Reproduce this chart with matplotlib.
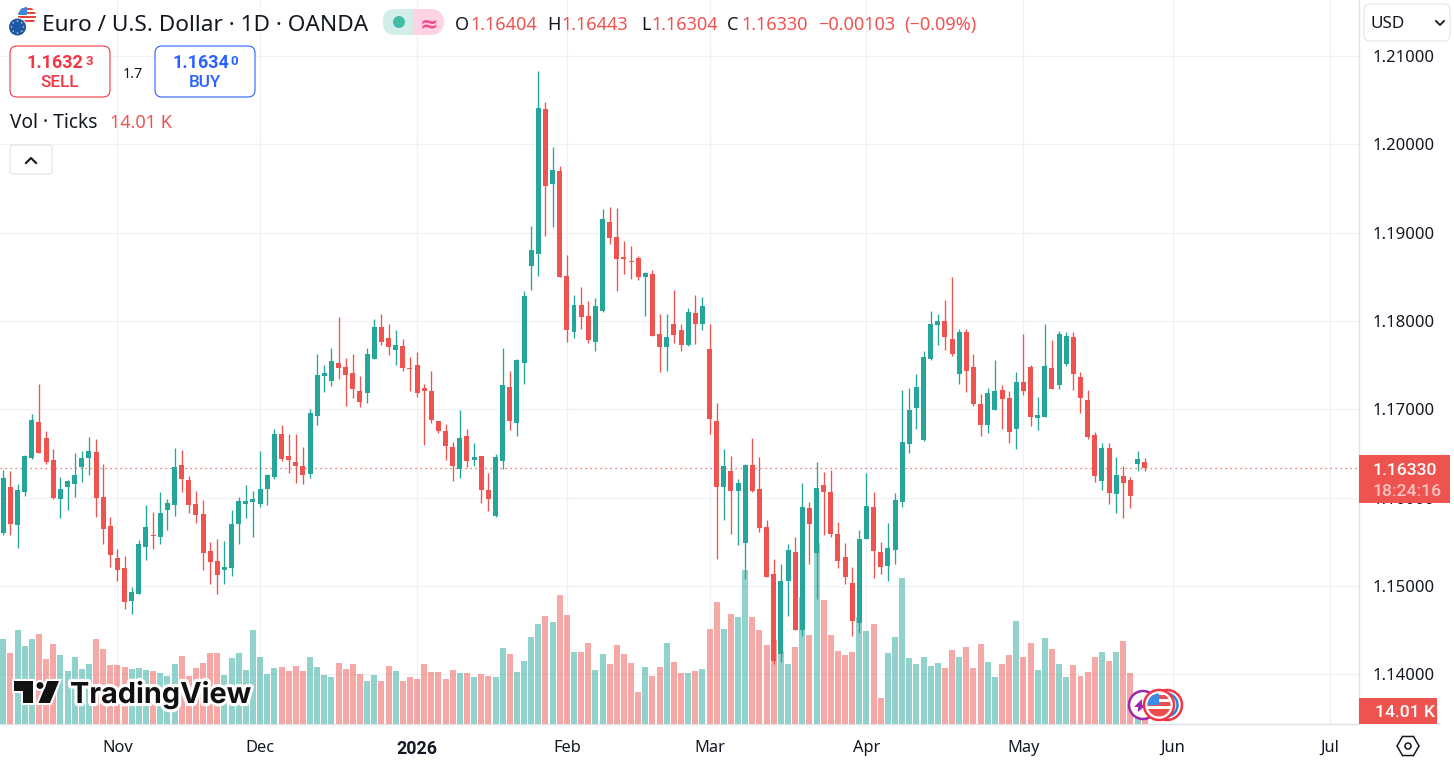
import math
import matplotlib
matplotlib.use("Agg")
import matplotlib.pyplot as plt
import matplotlib.patheffects as pe
from matplotlib.patches import FancyBboxPatch, Circle, Rectangle, Polygon, RegularPolygon, Wedge

FONT = "Noto Sans"
BOLD_FONT = "Roboto"
plt.rcParams["font.family"] = [FONT, "DejaVu Sans"]

opens = [
 1.15599,1.16120,1.15690,1.16063,1.16448,1.16856,1.16675,1.16426,1.15984,1.16120,
 1.16154,1.16347,1.16448,1.16516,1.16007,1.15679,1.15316,1.15203,1.14829,1.14909,
 1.15441,1.15577,1.15554,1.15860,1.15916,1.16369,1.16199,1.15928,1.15814,1.15395,
 1.15282,1.15180,1.15203,1.15701,1.15928,1.15950,1.15928,1.16097,1.16233,1.16720,
 1.16471,1.16403,1.16358,1.16267,1.16923,1.17376,1.17320,1.17523,1.17478,1.17410,
 1.17206,1.17184,1.17569,1.17931,1.17806,1.17671,1.17716,1.17467,1.17501,1.17240,
 1.17206,1.16867,1.16754,1.16572,1.16323,1.16697,1.16425,1.16471,1.16086,1.15791,
 1.16414,1.17252,1.16844,1.17523,1.18622,1.18758,1.20399,1.19550,1.19697,1.18508,
 1.17874,1.18180,1.18056,1.17761,1.18112,1.19120,1.18950,1.18724,1.18678,1.18712,
 1.18497,1.18531,1.17852,1.17705,1.17965,1.17897,1.17727,1.18090,1.17965,1.17683,
 1.16867,1.16120,1.16301,1.16075,1.15486,1.16369,1.16097,1.15667,1.15135,1.14229,
 1.15056,1.15384,1.14501,1.15882,1.15373,1.16143,1.16064,1.15588,1.15328,1.15033,
 1.14580,1.15531,1.15894,1.15384,1.15226,1.15407,1.15950,1.16607,1.17015,1.16652,
 1.17569,1.17954,1.18000,1.17796,1.17400,1.17875,1.17479,1.17060,1.16822,1.16992,
 1.17218,1.17128,1.16777,1.17309,1.17479,1.16901,1.16913,1.17467,1.17275,1.17513,
 1.17818,1.17366,1.17105,1.16709,1.16188,1.16562,1.16041,1.16245,1.16199,1.16381,
 1.16404]
highs = [
 1.16313,1.16301,1.16154,1.16482,1.16947,1.17286,1.16754,1.16550,1.16233,1.16199,
 1.16505,1.16528,1.16686,1.16664,1.16381,1.15780,1.15418,1.15339,1.14988,1.15520,
 1.15916,1.15837,1.16063,1.15984,1.16562,1.16539,1.16245,1.16075,1.15973,1.15497,
 1.15531,1.15509,1.15860,1.16007,1.16143,1.16075,1.16528,1.16267,1.16777,1.16822,
 1.16720,1.16720,1.16573,1.16999,1.17625,1.17501,1.17693,1.18044,1.17580,1.17625,
 1.17376,1.17693,1.18022,1.18078,1.17965,1.17897,1.17795,1.17591,1.17648,1.17286,
 1.17433,1.16867,1.16833,1.16629,1.16991,1.16776,1.16618,1.16471,1.16278,1.16493,
 1.17693,1.17433,1.17569,1.18339,1.19075,1.20829,1.20478,1.19969,1.19754,1.18746,
 1.18293,1.18384,1.18225,1.18259,1.19267,1.19290,1.19278,1.18905,1.18848,1.18735,
 1.18554,1.18576,1.18078,1.18078,1.18350,1.17965,1.18146,1.18293,1.18271,1.17966,
 1.17071,1.16550,1.16471,1.16211,1.16381,1.16675,1.16460,1.15746,1.15305,1.15248,
 1.15475,1.15554,1.16165,1.15950,1.16403,1.16290,1.16313,1.15724,1.15486,1.15214,
 1.15633,1.16279,1.16064,1.15497,1.15713,1.16052,1.17218,1.17241,1.17400,1.17660,
 1.18113,1.18079,1.18237,1.18498,1.17909,1.17909,1.17626,1.17173,1.17241,1.17558,
 1.17275,1.17207,1.17422,1.17852,1.17501,1.17139,1.17966,1.17784,1.17886,1.17875,
 1.17875,1.17422,1.17218,1.16743,1.16618,1.16618,1.16460,1.16358,1.16233,1.16528,
 1.16443]
lows = [
 1.15577,1.15577,1.15429,1.16018,1.16437,1.16505,1.16381,1.15984,1.15769,1.15860,
 1.16007,1.16177,1.16256,1.15780,1.15475,1.15214,1.15056,1.14739,1.14682,1.14909,
 1.15294,1.15418,1.15475,1.15633,1.15792,1.16063,1.15826,1.15713,1.15180,1.15022,
 1.14909,1.15022,1.15112,1.15475,1.15769,1.15554,1.15894,1.15916,1.16211,1.16414,
 1.16279,1.16165,1.16154,1.16222,1.16821,1.17195,1.17263,1.17342,1.17037,1.17127,
 1.17025,1.17071,1.17569,1.17727,1.17614,1.17501,1.17433,1.17206,1.17138,1.16595,
 1.16844,1.16731,1.16425,1.16187,1.16221,1.16346,1.16357,1.15938,1.15848,1.15780,
 1.16323,1.16765,1.16697,1.17286,1.18350,1.18508,1.18961,1.19063,1.18497,1.17761,
 1.17806,1.17908,1.17750,1.17659,1.18101,1.18871,1.18339,1.18531,1.18474,1.18463,
 1.18056,1.17829,1.17422,1.17433,1.17750,1.17659,1.17716,1.17739,1.17897,1.16720,
 1.15305,1.15746,1.15588,1.15463,1.15079,1.16064,1.15611,1.15101,1.14116,1.14139,
 1.14660,1.14501,1.14433,1.15248,1.14852,1.15577,1.15554,1.15203,1.15022,1.14433,
 1.14467,1.15531,1.15090,1.15135,1.15056,1.15248,1.15894,1.16505,1.16777,1.16641,
 1.17558,1.17728,1.17671,1.17603,1.17286,1.17196,1.17037,1.16698,1.16732,1.16992,
 1.16777,1.16618,1.16550,1.17162,1.16811,1.16766,1.16913,1.17230,1.17230,1.17490,
 1.17218,1.16958,1.16664,1.16177,1.16086,1.15928,1.15826,1.15769,1.15882,1.16301,
 1.16304]
closes = [
 1.16222,1.15701,1.16086,1.16471,1.16879,1.16505,1.16403,1.15996,1.16097,1.16188,
 1.16256,1.16448,1.16528,1.15996,1.15645,1.15350,1.15180,1.14818,1.14931,1.15475,
 1.15667,1.15565,1.15826,1.15939,1.16347,1.16211,1.15916,1.15803,1.15373,1.15271,
 1.15124,1.15214,1.15701,1.15962,1.15962,1.15984,1.16097,1.16256,1.16720,1.16437,
 1.16426,1.16358,1.16256,1.16958,1.17388,1.17410,1.17546,1.17467,1.17388,1.17229,
 1.17082,1.17625,1.17931,1.17761,1.17705,1.17727,1.17467,1.17456,1.17184,1.17206,
 1.16878,1.16754,1.16584,1.16357,1.16674,1.16414,1.16459,1.16086,1.15984,1.16459,
 1.17274,1.16867,1.17557,1.18282,1.18803,1.20411,1.19527,1.19709,1.18497,1.17897,
 1.18180,1.18044,1.17784,1.18169,1.19154,1.18939,1.18701,1.18701,1.18667,1.18497,
 1.18542,1.17829,1.17705,1.17818,1.17840,1.17727,1.18101,1.17965,1.18169,1.16890,
 1.16120,1.16358,1.16075,1.16165,1.16369,1.16075,1.15656,1.15101,1.14150,1.15056,
 1.15407,1.14501,1.15894,1.15701,1.16109,1.16064,1.15588,1.15282,1.15101,1.14603,
 1.15531,1.15905,1.15396,1.15214,1.15429,1.15973,1.16630,1.16992,1.17252,1.17592,
 1.17966,1.18000,1.17818,1.17626,1.17875,1.17433,1.17060,1.16822,1.17184,1.17207,
 1.17116,1.16743,1.17309,1.17207,1.16913,1.16935,1.17490,1.17230,1.17852,1.17830,
 1.17400,1.17128,1.16686,1.16245,1.16562,1.16052,1.16256,1.16165,1.16018,1.16437,
 1.16330]
volumes_k = [
 91.5,76.5,101.2,84.0,91.5,96.9,70.0,86.2,74.3,57.1,
 72.2,59.2,64.6,91.5,80.8,63.5,63.5,61.4,59.2,60.3,
 58.2,57.1,54.9,51.7,64.6,73.2,51.7,60.3,65.7,76.5,
 76.5,52.8,71.1,76.5,58.2,101.2,72.2,53.9,60.3,61.4,
 57.1,62.5,57.1,72.2,61.4,52.8,50.6,65.7,59.2,64.6,
 53.9,46.3,52.8,46.3,62.5,57.1,46.3,50.6,48.5,64.6,
 56.0,56.0,48.5,58.2,54.9,54.9,50.6,53.9,51.7,50.6,
 81.9,75.4,56.0,67.9,93.7,107.7,116.3,109.9,138.9,117.4,
 77.5,77.5,87.2,58.2,75.4,64.6,85.1,75.4,65.7,34.5,
 61.4,51.7,61.4,87.2,66.8,54.9,54.9,57.1,59.2,102.3,
 131.4,102.3,118.5,115.2,165.9,115.2,101.2,85.1,90.5,78.6,
 64.6,82.9,136.8,95.9,194.9,133.5,95.9,78.6,74.3,77.5,
 115.2,100.2,107.7,28.0,76.5,93.7,157.2,71.1,64.6,72.2,
 62.5,65.7,60.3,79.7,72.2,82.9,60.3,86.2,66.8,50.6,
 64.6,74.3,110.9,72.2,87.2,58.2,92.6,80.8,64.6,50.6,
 63.5,51.7,56.0,72.2,77.5,67.9,77.5,89.4,54.9,21.5,
 14.01]

month_labels = ["Nov", "Dec", "2026", "Feb", "Mar", "Apr", "May", "Jun", "Jul"]
month_bars = [16, 36, 58, 79, 99, 121, 143, 164, 186]
price_levels = [1.14, 1.15, 1.16, 1.17, 1.18, 1.19, 1.20, 1.21]
last_close = closes[-1]

TEAL = "#26a69a"
RED = "#ef5350"
TXT = "#131722"
GRID = "#f0f1f4"
SEP = "#e0e3eb"

W, H = 1454, 761
fig = plt.figure(figsize=(W/100, H/100), dpi=100, facecolor="white")
pane = [0, (H-724)/H, 1358.5/W, 724/H]
bar_x = list(range(len(closes)))
xlim = (-0.4626, 189.97)
ylim = (1.13437, 1.21634)
vol_top = 780

# base: grid and scales
base = fig.add_axes(pane, zorder=1)
base.set_xlim(*xlim); base.set_ylim(*ylim)
base.set_xticks(month_bars)
base.set_xticklabels(month_labels, fontsize=11.8, color=TXT)
for lab in base.get_xticklabels():
    if lab.get_text() == "2026":
        lab.set_family(BOLD_FONT)
        lab.set_fontweight("bold")
        lab.set_fontsize(12.9)
base.set_yticks(price_levels)
base.set_yticklabels([f"{p:.5f}" for p in price_levels], fontsize=12, color=TXT)
base.yaxis.tick_right()
base.tick_params(axis="x", length=0, pad=11.5)
base.tick_params(axis="y", length=0, pad=10.3)
base.grid(True, color=GRID, lw=0.9)
base.set_axisbelow(True)
for s in ["top", "left"]:
    base.spines[s].set_visible(False)
base.spines["right"].set_color(SEP); base.spines["bottom"].set_color(SEP)
base.spines["right"].set_linewidth(1.0); base.spines["bottom"].set_linewidth(1.0)

# volume pane
axv = fig.add_axes(pane, zorder=2)
axv.patch.set_alpha(0)
axv.axis("off")
axv.set_xlim(*xlim); axv.set_ylim(0, vol_top)
vol_colors = [TEAL if c >= o else RED for o, c in zip(opens, closes)]
axv.bar(bar_x, volumes_k, width=0.84, color=vol_colors, alpha=0.5, linewidth=0)

# candles
ax = fig.add_axes(pane, zorder=3)
ax.patch.set_alpha(0)
ax.axis("off")
ax.set_xlim(*xlim); ax.set_ylim(*ylim)
ax.axhline(last_close, color=RED, lw=0.9, ls=(0, (1, 3)), zorder=1)
ax.vlines(bar_x, lows, highs, colors=vol_colors, lw=0.95, zorder=2)
ax.bar(bar_x, [abs(c-o) for o, c in zip(opens, closes)],
       bottom=[min(o, c) for o, c in zip(opens, closes)],
       width=0.7, color=vol_colors, linewidth=0, zorder=3)

# interface layer in pixel coordinates
ui = fig.add_axes([0, 0, 1, 1], zorder=5)
ui.patch.set_alpha(0)
ui.axis("off")
ui.set_xlim(0, W); ui.set_ylim(H, 0)

def label(x, y, s, size, color=TXT, ha="left", weight="normal", alpha=None, z=10, family=None):
    return ui.text(x, y, s, fontsize=size, color=color, ha=ha, va="center_baseline",
                   fontweight=weight, alpha=alpha, zorder=z, family=family)

def box(x0, y0, x1, y1, edge, face="white", r=6, lw=0.8, z=5):
    ui.add_patch(FancyBboxPatch((x0+r, y0+r), x1-x0-2*r, y1-y0-2*r,
                                boxstyle=f"round,pad={r},rounding_size={r}",
                                fc=face, ec=edge, lw=lw, zorder=z))

# flags
us = Circle((27, 16), 9, fc="white", ec="none", zorder=6)
ui.add_patch(us)
for yy, hh in [(8, 2), (12, 2), (16, 2), (20, 2)]:
    r_ = Rectangle((18, yy), 18, hh, fc="#e8453c", zorder=6.1)
    ui.add_patch(r_); r_.set_clip_path(us)
can = Rectangle((18, 7), 9, 8, fc="#3d85e0", zorder=6.2)
ui.add_patch(can); can.set_clip_path(us)
ui.add_patch(Circle((17.5, 27), 9.5, fc="white", ec="none", zorder=6.5))
ui.add_patch(Circle((17.5, 27), 8.5, fc="#1d57a8", ec="none", zorder=7))
for dx, dy in [(0, -6), (4.2, -4.2), (6, 0), (4.2, 4.2), (0, 6), (-4.2, 4.2), (-6, 0), (-4.2, -4.2)]:
    ui.add_patch(Circle((17.5+dx, 27+dy), 0.8, fc="#f5c842", ec="none", zorder=7.5))

label(42, 23, "Euro / U.S. Dollar · 1D · OANDA", 16.3)

# status pill
box(383, 9, 443, 35, "none", "#d3eee9", r=12, z=5)
ui.add_patch(Rectangle((413, 9), 18, 26, fc="#ffd3e2", ec="none", zorder=5.1))
ui.add_patch(Wedge((431, 22), 13, -90, 90, fc="#ffd3e2", ec="none", zorder=5.1))
ui.add_patch(Circle((399, 22), 6, fc="#42bda8", ec="none", zorder=6))
label(429, 22, "≈", 16, color="#f7478f", ha="center", weight="bold")

# OHLC row
for x, s, c in [(455, "O", TXT), (470, "1.16404", RED), (547, "H", TXT), (561, "1.16443", RED),
                (641, "L", TXT), (651, "1.16304", RED), (727, "C", TXT), (741, "1.16330", RED),
                (818, "−0.00103", RED), (904, "(−0.09%)", RED)]:
    label(x, 23, s, 13.0, color=c)

# buttons
box(10, 46, 110, 97, "#f23645", r=7)
label(83, 61, "1.1632", 13.0, color="#f23645", ha="right", weight="bold", family=BOLD_FONT)
label(85.5, 60, "3", 9.5, color="#f23645", weight="bold", family=BOLD_FONT)
label(60, 81, "SELL", 12.3, color="#f23645", ha="center", weight="medium", family=BOLD_FONT)
label(133, 72, "1.7", 10.3, ha="center")
box(155, 46, 255, 97, "#2962ff", r=7)
label(229, 61, "1.1634", 13.0, color="#2962ff", ha="right", weight="bold", family=BOLD_FONT)
label(230.5, 60, "0", 9.5, color="#2962ff", weight="bold", family=BOLD_FONT)
label(205, 81, "BUY", 12.3, color="#2962ff", ha="center", weight="medium", family=BOLD_FONT)

label(10, 121, "Vol · Ticks", 13.8)
label(110, 121, "14.01 K", 13.0, color=RED)
box(10, 145, 52, 174, SEP, r=3)
ui.plot([26, 31, 36], [163, 158, 163], color=TXT, lw=1.5, zorder=8)

# logo
LOGO = "#111111"
logo_t_xy = [(13.5, 681), (33, 681), (33, 703), (23, 703), (23, 691), (13.5, 691)]
logo_s_xy = [(47.5, 681), (59, 681), (50, 703), (38.5, 703)]
for xy in (logo_t_xy, logo_s_xy):
    ui.add_patch(Polygon(xy, fc="white", ec="white", lw=3, zorder=7.9))
    ui.add_patch(Polygon(xy, fc=LOGO, ec="none", zorder=8))
ui.add_patch(Circle((40, 685.5), 4.5, fc=LOGO, ec="white", lw=1.5, zorder=8))
t = ui.text(70, 692, "TradingView", fontsize=20.8, fontweight="bold", color=LOGO,
            family="Inter", ha="left", va="center_baseline", zorder=9)
t.set_path_effects([pe.withStroke(linewidth=4.5, foreground="white")])

# event icons
ui.add_patch(Circle((1143, 705), 14, fc="white", ec="#9c27b0", lw=1.8, zorder=8))
ui.add_patch(Polygon([(1142, 699), (1142, 705), (1146, 705), (1138, 712), (1138, 707), (1134, 707)],
                     fc="#9c27b0", ec="none", zorder=8.05))
ui.add_patch(Circle((1167, 705), 15, fc="white", ec="#f23645", lw=1.8, zorder=8.1))
ui.add_patch(Circle((1166, 705), 11.5, fc="white", ec="#1e88e5", lw=1.8, zorder=8.15))
ui.add_patch(Circle((1159, 705), 15, fc="white", ec="#f23645", lw=1.8, zorder=8.2))
fl = Circle((1159, 705), 11.5, fc="white", ec="none", zorder=8.3)
ui.add_patch(fl)
for yy, hh in [(695, 3.5), (702, 3.5), (709, 8)]:
    st = Rectangle((1147, yy), 24, hh, fc="#ef4d4d", zorder=8.4)
    ui.add_patch(st); st.set_clip_path(fl)
cn = Rectangle((1147, 692), 12, 13, fc="#3d8be8", zorder=8.5)
ui.add_patch(cn); cn.set_clip_path(fl)

# price scale tags
ui.add_patch(Rectangle((1359, 455), 90.5, 48, fc=RED, ec="none", zorder=7))
label(1405, 469, "1.16330", 12.6, color="white", ha="center", weight="medium", family=BOLD_FONT)
label(1407, 490, "18:24:16", 12.6, color="white", ha="center", alpha=0.65, weight="medium", family=BOLD_FONT)
ui.add_patch(Rectangle((1359, 698), 78, 26, fc=RED, ec="none", zorder=7))
label(1405, 711, "14.01 K", 12.6, color="white", ha="center", weight="medium", family=BOLD_FONT)

# currency selector
box(1364, 4, 1450, 41, SEP, r=6)
label(1370, 22.5, "USD", 12.3)
ui.plot([1436, 1440, 1444], [21, 25, 21], color=TXT, lw=1.3, zorder=8)

# settings icon
ui.add_patch(RegularPolygon((1408, 746), 6, radius=11, orientation=math.pi/6, fc="white",
                            ec=TXT, lw=1.1, zorder=8))
ui.add_patch(Circle((1408, 746), 3, fc="white", ec=TXT, lw=1.1, zorder=9))

fig.savefig("out.png", dpi=100, facecolor="white")
